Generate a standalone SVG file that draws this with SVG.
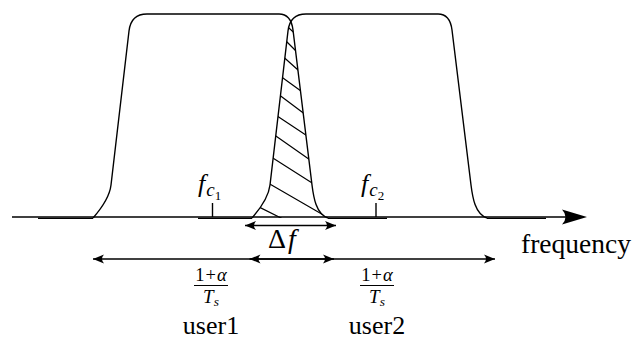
<svg xmlns="http://www.w3.org/2000/svg" width="636" height="342" viewBox="0 0 636 342">
<defs>
<marker id="ah" markerUnits="userSpaceOnUse" markerWidth="14" markerHeight="12" viewBox="-12 -6 14 12" refX="0" refY="0" orient="auto-start-reverse">
<path d="M 0,0 L -11,-4.5 Q -7,0 -11,4.5 Z" fill="#000"/>
</marker>
<clipPath id="cL"><path d="M 93,218 C 100,210 109.6,197 111,185 L 129,31 Q 131,14 147,14 L 279,14 Q 291,14 293,30 L 312,185 C 313.5,197 316,214 328,218 Z"/></clipPath>
<clipPath id="cR"><path d="M 252,218 C 259,210 268.6,197 270,185 L 288,31 Q 290,14 306,14 L 438,14 Q 450,14 452,30 L 471,185 C 472.5,197 475,214 487,218 Z"/></clipPath>
</defs>

<g id="axis">
<line x1="12" y1="217" x2="572" y2="217" stroke="#000" stroke-width="1.4"/>
<path d="M 587,217 L 562,209.5 Q 569,217 562,224.5 Z" fill="#000"/>
<text x="521" y="253" font-size="27.5" font-family="Liberation Serif">frequency</text>
</g>

<g id="user1-spectrum" fill="none" stroke="#000" stroke-width="1.4">
<path stroke-width="1.2" d="M 38,218.4 L 93,218.4 M 328,218.4 L 387,218.4"/>
<path d="M 93,218 C 100,210 109.6,197 111,185 L 129,31 Q 131,14 147,14 L 279,14 Q 291,14 293,30 L 312,185 C 313.5,197 316,214 328,218"/>
<line x1="212.5" y1="203" x2="212.5" y2="217"/>
</g>
<g id="fc1-label">
<text x="198" y="192" font-family="Liberation Serif"><tspan font-style="italic" font-size="26">f</tspan><tspan font-style="italic" font-size="19" dx="1" dy="4">c</tspan><tspan font-size="13" dy="4">1</tspan></text>
</g>

<g id="user2-spectrum" fill="none" stroke="#000" stroke-width="1.4">
<path stroke-width="1.2" d="M 198,218.4 L 252,218.4 M 487,218.4 L 546,218.4"/>
<path d="M 252,218 C 259,210 268.6,197 270,185 L 288,31 Q 290,14 306,14 L 438,14 Q 450,14 452,30 L 471,185 C 472.5,197 475,214 487,218"/>
<line x1="376" y1="203" x2="376" y2="217"/>
</g>
<g id="fc2-label">
<text x="361" y="192" font-family="Liberation Serif"><tspan font-style="italic" font-size="26">f</tspan><tspan font-style="italic" font-size="19" dx="1" dy="4">c</tspan><tspan font-size="13" dy="4">2</tspan></text>
</g>

<g id="overlap">
<g clip-path="url(#cL)"><g clip-path="url(#cR)">
<path fill="none" stroke="#000" stroke-width="1.2" d="M 280,19.6 L 305,43 M 278,33 L 308,63 M 276,50.2 L 310,80.8 M 274,71.6 L 312,99.1 M 272,89.5 L 314,121 M 270,111.2 L 316,141.8 M 268,130.6 L 318,165.6 M 265,153 L 320,188 M 262,179.4 L 335,221.7 M 250,202.5 L 290,222.5"/>
</g></g>
</g>

<g id="connectors" fill="none" stroke="#000" stroke-width="1.4" marker-start="url(#ah)" marker-end="url(#ah)">
<line x1="245" y1="225.5" x2="336" y2="225.5"/>
<line x1="93" y1="259" x2="334" y2="259"/>
<line x1="249.5" y1="259" x2="495" y2="259"/>
</g>

<g id="delta-f">
<text x="268" y="248" font-size="28" font-family="Liberation Serif">Δ<tspan font-style="italic" dx="2">f</tspan></text>
</g>

<g id="user1-label">
<text x="211" y="280.5" font-size="18.5" text-anchor="middle" font-family="Liberation Serif">1<tspan dx="1">+</tspan><tspan font-style="italic" dx="1">α</tspan></text>
<line x1="194" y1="285.5" x2="228" y2="285.5" stroke="#000" stroke-width="1"/>
<text x="211" y="302.5" font-size="19" text-anchor="middle" font-family="Liberation Serif"><tspan font-style="italic">T</tspan><tspan font-style="italic" font-size="13.5" dy="3">s</tspan></text>
<text x="211" y="334" font-size="26" text-anchor="middle" font-family="Liberation Serif">user1</text>
</g>

<g id="user2-label">
<text x="377" y="280.5" font-size="18.5" text-anchor="middle" font-family="Liberation Serif">1<tspan dx="1">+</tspan><tspan font-style="italic" dx="1">α</tspan></text>
<line x1="360" y1="285.5" x2="394" y2="285.5" stroke="#000" stroke-width="1"/>
<text x="377" y="302.5" font-size="19" text-anchor="middle" font-family="Liberation Serif"><tspan font-style="italic">T</tspan><tspan font-style="italic" font-size="13.5" dy="3">s</tspan></text>
<text x="377" y="334" font-size="26" text-anchor="middle" font-family="Liberation Serif">user2</text>
</g>
</svg>
